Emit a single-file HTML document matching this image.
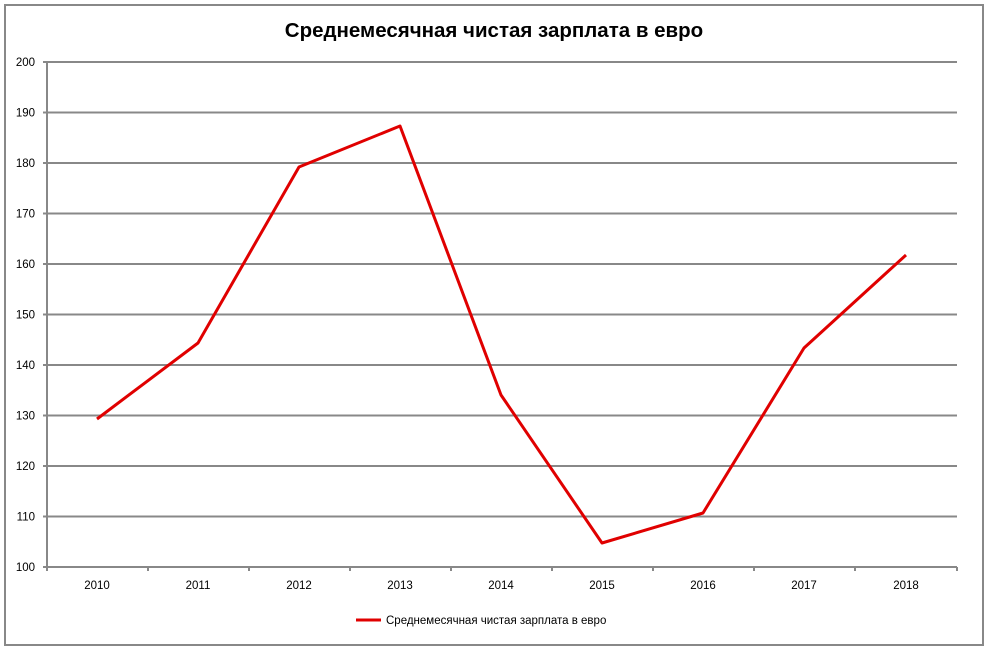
<!DOCTYPE html><html><head><meta charset="utf-8"><style>body{margin:0;background:#fff}</style></head><body>
<svg width="987" height="648" xmlns="http://www.w3.org/2000/svg" font-family="'Liberation Sans', sans-serif">
<rect x="5" y="5" width="978" height="640" fill="#fff" stroke="#888" stroke-width="2"/>
<text x="494" y="37" text-anchor="middle" font-weight="bold" font-size="20.5" fill="#000">Среднемесячная чистая зарплата в евро</text>
<g stroke="#888" stroke-width="2">
<line x1="43" y1="62" x2="957" y2="62"/><line x1="43" y1="112.5" x2="957" y2="112.5"/><line x1="43" y1="163" x2="957" y2="163"/><line x1="43" y1="213.5" x2="957" y2="213.5"/><line x1="43" y1="264" x2="957" y2="264"/><line x1="43" y1="314.5" x2="957" y2="314.5"/><line x1="43" y1="365" x2="957" y2="365"/><line x1="43" y1="415.5" x2="957" y2="415.5"/><line x1="43" y1="466" x2="957" y2="466"/><line x1="43" y1="516.5" x2="957" y2="516.5"/><line x1="43" y1="567" x2="957" y2="567"/>
<line x1="47" y1="62" x2="47" y2="571"/>
<line x1="148" y1="567" x2="148" y2="571"/><line x1="249" y1="567" x2="249" y2="571"/><line x1="350" y1="567" x2="350" y2="571"/><line x1="451" y1="567" x2="451" y2="571"/><line x1="552" y1="567" x2="552" y2="571"/><line x1="653" y1="567" x2="653" y2="571"/><line x1="754" y1="567" x2="754" y2="571"/><line x1="855" y1="567" x2="855" y2="571"/><line x1="957" y1="567" x2="957" y2="571"/>
</g>
<g font-size="11.5" fill="#000" text-anchor="end">
<text x="35" y="66">200</text><text x="35" y="116.5">190</text><text x="35" y="167">180</text><text x="35" y="217.5">170</text><text x="35" y="268">160</text><text x="35" y="318.5">150</text><text x="35" y="369">140</text><text x="35" y="419.5">130</text><text x="35" y="470">120</text><text x="35" y="520.5">110</text><text x="35" y="571">100</text>
</g>
<g font-size="11.5" fill="#000" text-anchor="middle">
<text x="97" y="589">2010</text><text x="198" y="589">2011</text><text x="299" y="589">2012</text><text x="400" y="589">2013</text><text x="501" y="589">2014</text><text x="602" y="589">2015</text><text x="703" y="589">2016</text><text x="804" y="589">2017</text><text x="906" y="589">2018</text>
</g>
<polyline fill="none" stroke="#e00000" stroke-width="3" stroke-linejoin="round" points="97,419 198,343 299,167 400,126 501,395 602,543 703,513 804,348 906,255"/>
<line x1="356" y1="620" x2="381" y2="620" stroke="#e00000" stroke-width="3"/>
<text x="386" y="624" font-size="11.5" fill="#000">Среднемесячная  чистая зарплата в евро</text>
</svg>
</body></html>
